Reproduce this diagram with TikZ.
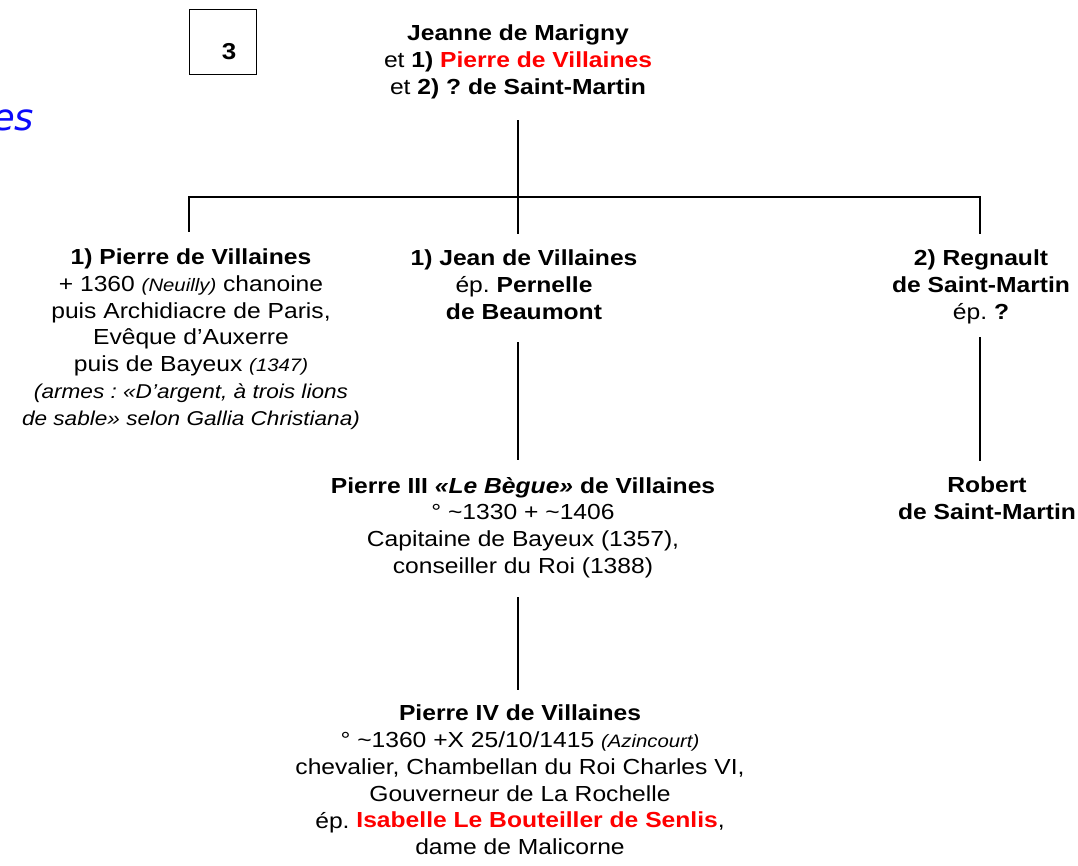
\documentclass[tikz,border=0pt]{standalone}
\usepackage{fontspec}
\setmainfont{Liberation Sans}[FakeStretch=1.13]
\newfontfamily\titlefont{DejaVu Sans}
\usetikzlibrary{positioning}
\definecolor{namered}{RGB}{255,0,0}
\definecolor{titleblue}{RGB}{10,10,250}
\tikzset{
  person/.style={align=center, inner xsep=0pt, inner ysep=2pt, font=\fontsize{21.8}{26.8}\selectfont},
  link/.style={line width=2.4pt},
  drop/.style={link, shorten <=14pt},
  rise/.style={link, shorten >=14pt},
}
\newcommand{\note}[1]{{\fontsize{18}{20}\selectfont\itshape #1}}
\newcommand{\arms}{\fontsize{20}{26.8}\selectfont\itshape}
\frenchspacing

\begin{document}
\begin{tikzpicture}[x=1pt,y=-1pt]
  \useasboundingbox (0,0) rectangle (1078,866);
  %%%%% START %%%%%
  \node[text=titleblue, anchor=base west, inner sep=0pt, font=\titlefont\fontsize{37}{40}\selectfont\itshape] (title) at (-8,131) {es};

  \draw[line width=1pt] (189,10) rectangle (256,75);
  \node[font=\fontsize{23}{24}\selectfont\bfseries] (tome) at (229,52) {3};

  \node[person] (jeanne) at (518,62) {\textbf{Jeanne de Marigny}\\
    et \textbf{1) \textcolor{namered}{Pierre de Villaines}}\\
    et \textbf{2) ? de Saint-Martin}};

  \coordinate (bar) at (518,197);
  \coordinate (barL) at (189,197);
  \coordinate (barR) at (980,197);

  \node[person] (pierre) at (191,339) {\textbf{1) Pierre de Villaines}\\
    + 1360 \note{(Neuilly)} chanoine\\
    puis Archidiacre de Paris,\\
    Evêque d’Auxerre\\
    puis de Bayeux \note{(1347)}\\
    {\arms (armes : «D’argent, à trois lions}\\
    {\arms de sable» selon Gallia Christiana)}};

  \node[person] (jean) at (524,285) {\textbf{1) Jean de Villaines}\\
    ép. \textbf{Pernelle}\\
    \textbf{de Beaumont}};

  \node[person] (regnault) at (981,287) {\textbf{2) Regnault}\\
    \textbf{de Saint-Martin}\\
    ép. \textbf{?}};

  \node[person] (pierreIII) at (523,527.5) {\textbf{Pierre III \textit{«Le Bègue»} de Villaines}\\
    ° \char`~1330 + \char`~1406\\
    Capitaine de Bayeux (1357),\\
    conseiller du Roi (1388)};

  \node[person] (robert) at (987,498) {\textbf{Robert}\\
    \textbf{de Saint-Martin}};

  \node[person] (pierreIV) at (520,780) {\textbf{Pierre IV de Villaines}\\
    ° \char`~1360 +X 25/10/1415 \note{(Azincourt)}\\
    chevalier, Chambellan du Roi Charles VI,\\
    Gouverneur de La Rochelle\\
    ép. \textbf{\textcolor{namered}{Isabelle Le Bouteiller de Senlis}},\\
    dame de Malicorne};

  % lignes
  \draw[drop, shorten <=19pt] (jeanne.south -| bar) -- (bar);
  \draw[link, line cap=rect] (barL) -- (barR);
  \draw[rise] (barL) -- (barL |- pierre.north);
  \draw[rise] (bar) -- (bar |- jean.north);
  \draw[rise] (barR) -- (barR |- regnault.north);
  \draw[drop, shorten <=20pt, shorten >=15pt] (jean.south -| bar) -- (bar |- pierreIII.north);
  \draw[drop, shorten <=17pt, shorten >=13pt] (pierreIII.south -| bar) -- (bar |- pierreIV.north);
  \draw[drop, shorten <=11pt, shorten >=13pt] (regnault.south -| barR) -- (barR |- robert.north);
  %%%%% END %%%%%
\end{tikzpicture}
\end{document}
